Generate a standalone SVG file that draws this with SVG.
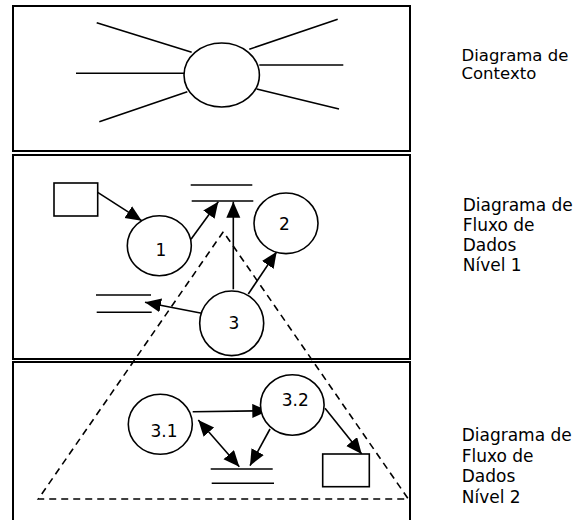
<svg xmlns="http://www.w3.org/2000/svg" width="575" height="520" viewBox="0 0 575 520">
<style>
.box{fill:none;stroke:#000;stroke-width:2}
.shape{fill:#fff;stroke:#000;stroke-width:1.6}
.ln{fill:none;stroke:#000;stroke-width:1.6}
.arr{fill:none;stroke:#000;stroke-width:1.6;marker-end:url(#ah)}
.dash{fill:none;stroke:#000;stroke-width:1.6;stroke-dasharray:7 5}
text{font-family:"DejaVu Sans",Verdana,sans-serif;font-size:17px;fill:#000}
.lbl{text-anchor:middle}
.sm{font-size:16.5px}
</style>
<defs>
<marker id="ah" markerUnits="userSpaceOnUse" markerWidth="17" markerHeight="15" refX="16" refY="7" orient="auto-start-reverse">
<path d="M0,0 L16,7 L0,14 z" fill="#000"/>
</marker>
</defs>
<g id="frames">
<rect class="box" x="13" y="6" width="397" height="145"/>
<rect class="box" x="13" y="155" width="397" height="204"/>
<rect class="box" x="13" y="362" width="397" height="170"/>
</g>
<g id="context">
<ellipse class="shape" cx="221.7" cy="75" rx="37.7" ry="32"/>
<line class="ln" x1="96.7" y1="22.7" x2="191.7" y2="52.3"/>
<line class="ln" x1="76" y1="73.3" x2="184" y2="73.3"/>
<line class="ln" x1="99.3" y1="121.7" x2="187.3" y2="91.7"/>
<line class="ln" x1="249.3" y1="49.3" x2="337.7" y2="19.3"/>
<line class="ln" x1="259.3" y1="65" x2="343.3" y2="65"/>
<line class="ln" x1="256.7" y1="89" x2="339" y2="109"/>
</g>
<g id="triangle">
<polyline class="dash" points="223.3,231.7 38.3,499 408.3,499 223.3,231.7"/>
</g>
<g id="connectors">
<line class="arr" x1="97.7" y1="192.3" x2="141.7" y2="220.7"/>
<line class="arr" x1="191" y1="239.3" x2="218.3" y2="201.7"/>
<line class="arr" x1="233.3" y1="289.3" x2="233.3" y2="201.7"/>
<line class="arr" x1="248.3" y1="294" x2="276.7" y2="251.7"/>
<line class="arr" x1="201.7" y1="313.3" x2="145" y2="302.3"/>
<line class="arr" x1="192.7" y1="411.7" x2="268.3" y2="410.7"/>
<line class="arr" x1="198.3" y1="420" x2="239.3" y2="466.7" marker-start="url(#ah)"/>
<line class="arr" x1="270" y1="429" x2="250" y2="465.7"/>
<line class="arr" x1="325" y1="408.3" x2="361.7" y2="454"/>
</g>
<g id="ext1"><rect class="shape" x="54" y="183" width="43.7" height="33"/></g>
<g id="store1"><line class="ln" x1="190.7" y1="185" x2="252.3" y2="185"/><line class="ln" x1="191.7" y1="201" x2="253.3" y2="201"/></g>
<g id="store2"><line class="ln" x1="96" y1="295" x2="151" y2="295"/><line class="ln" x1="96.7" y1="312.3" x2="151.7" y2="312.3"/></g>
<g id="p1"><ellipse class="shape" cx="159.3" cy="245.7" rx="32" ry="30"/><text class="lbl" x="161" y="255.5">1</text></g>
<g id="p2"><ellipse class="shape" cx="286" cy="223.3" rx="32" ry="30.3"/><text class="lbl" x="284.5" y="230">2</text></g>
<g id="p3"><ellipse class="shape" cx="231.7" cy="323.3" rx="32" ry="32.3"/><text class="lbl" x="234" y="329">3</text></g>
<g id="p31"><ellipse class="shape" cx="160.3" cy="424.3" rx="32" ry="30"/><text class="lbl" x="164" y="436.5">3.1</text></g>
<g id="p32"><ellipse class="shape" cx="292.3" cy="405" rx="31.8" ry="30.3"/><text class="lbl" x="295.3" y="405.7">3.2</text></g>
<g id="store3"><line class="ln" x1="210.7" y1="469" x2="272.7" y2="469"/><line class="ln" x1="211.7" y1="483.3" x2="274" y2="483.3"/></g>
<g id="ext2"><rect class="shape" x="322.7" y="454" width="46.6" height="32.7"/></g>
<g id="labels">
<text class="sm" x="461.5" y="60.5">Diagrama de</text>
<text class="sm" x="461.5" y="78.5">Contexto</text>
<text x="462.7" y="210.5">Diagrama de</text>
<text x="462.7" y="230.5">Fluxo de</text>
<text x="462.7" y="250.8">Dados</text>
<text x="462.7" y="271.2">Nível 1</text>
<text x="461.7" y="440.7">Diagrama de</text>
<text x="461.7" y="461.5">Fluxo de</text>
<text x="461.7" y="482">Dados</text>
<text x="461.7" y="503">Nível 2</text>
</g>
</svg>
